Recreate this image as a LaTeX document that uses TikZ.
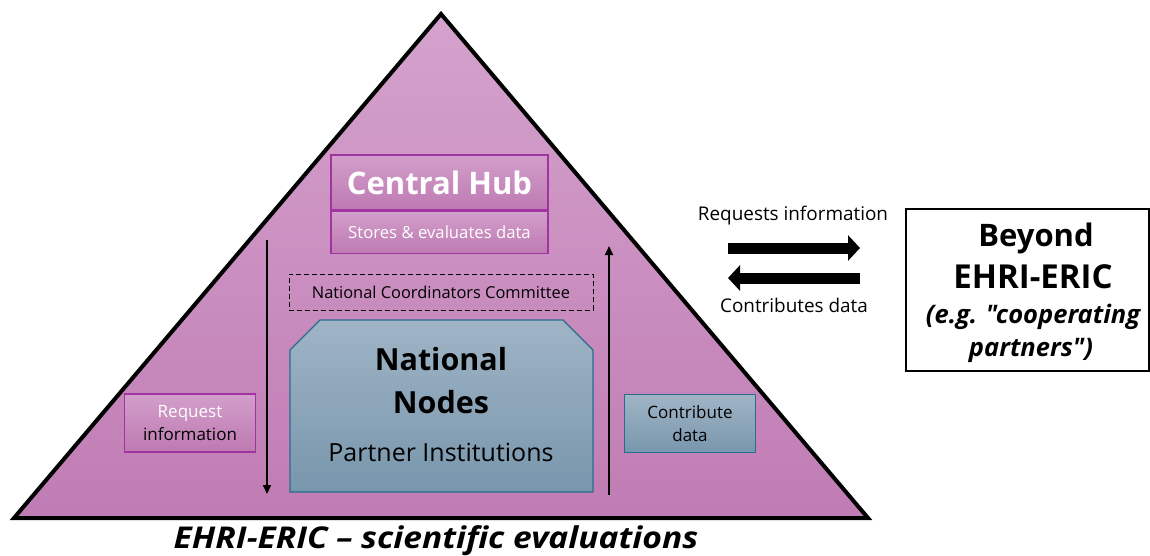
\documentclass[tikz,border=0pt]{standalone}
\usepackage{fontspec}
\setmainfont{Open Sans}[Ligatures=TeXOff]
\usetikzlibrary{arrows.meta,positioning}

\definecolor{pyrtop}{RGB}{212,162,204}
\definecolor{pyrbot}{RGB}{192,124,180}
\definecolor{hubline}{RGB}{162,52,162}
\definecolor{hubtop}{RGB}{210,158,202}
\definecolor{hubbot}{RGB}{190,122,178}
\definecolor{nodetop}{RGB}{160,180,198}
\definecolor{nodebot}{RGB}{120,150,172}
\definecolor{nodeline}{RGB}{38,110,140}

\newcommand{\fs}[2]{\fontsize{#1}{#2}\selectfont}

\tikzset{
  hubbox/.style={draw=hubline, line width=1.5pt, top color=hubtop, bottom color=hubbot, inner sep=0pt},
  nodebox/.style={draw=nodeline, line width=1.3pt, top color=nodetop, bottom color=nodebot, inner sep=0pt},
  sidebox/.style={minimum width=131pt, minimum height=58pt, align=center, font=\fs{17}{23}},
  flowarrow/.style={line width=2pt, -{Triangle[length=9pt,width=8pt]}},
  bigarrow/.style={line width=11pt, -{Triangle[length=12pt,width=25pt]}},
  flowlabel/.style={font=\fs{18.9}{20}},
}

\begin{document}
\begin{tikzpicture}[x=1pt,y=-1pt]
\useasboundingbox (0,0) rectangle (1150,555);

% the pyramid
\draw[line width=4pt, top color=pyrtop, bottom color=pyrbot] (441,14) -- (868,518) -- (14,518) -- cycle;

% central hub
\node[hubbox, minimum width=217pt, minimum height=55pt, text=white, font=\fs{31}{31}\bfseries] (hub) at (439.5,182.5) {Central Hub};
\node[hubbox, minimum width=217pt, minimum height=42pt, text=white, font=\fs{16.7}{17}, below=0pt of hub] (store) {Stores \& evaluates data};

% committee
\node[draw, dash pattern=on 5pt off 3pt, line width=1pt, minimum width=304pt, minimum height=36pt, font=\fs{16.4}{17}] (ncc) at (441,292) {National Coordinators Committee};

% national nodes (top corners cut)
\draw[nodebox] (290,350) -- (320,320) -- (563,320) -- (593,350) -- (593,492) -- (290,492) -- cycle;
\node[align=center, font=\fs{30.5}{43}\bfseries] (natname) at (441,381) {National\\Nodes};
\node[font=\fs{25}{25}] (partner) at (441,452) {Partner Institutions};

% flows inside
\coordinate (reqtop) at (267,240);
\coordinate (reqbot) at (267,494);
\draw[flowarrow] (reqtop) -- (reqbot);
\coordinate (conbot) at (609,495);
\coordinate (contop) at (609,246);
\draw[flowarrow] (conbot) -- (contop);

\node[hubbox, sidebox] (request) at (190,423) {\textcolor{white}{Request}\\information};
\node[nodebox, sidebox] (contribute) at (690,423.5) {Contribute\\data};

% outside
\node[draw, line width=2pt, minimum width=243pt, minimum height=162pt] (beyond) at (1027,290) {};
\node[font=\fs{31}{31}\bfseries] (beyond1) at (1036,238) {Beyond};
\node[font=\fs{33}{33}\bfseries] (beyond2) at (1033,277) {EHRI-ERIC};
\node[font=\fs{25.5}{26}\bfseries\itshape] (beyond3) at (1033,317) {(e.g. "cooperating};
\node[font=\fs{25.5}{26}\bfseries\itshape] (beyond4) at (1031,350) {partners")};

\coordinate (outa) at (728,248);
\coordinate (outb) at (860,248);
\draw[bigarrow] (outa) -- (outb);
\coordinate (ina) at (860,278);
\coordinate (inb) at (728,278);
\draw[bigarrow] (ina) -- (inb);
\node[flowlabel] (reqlabel) at (793,216) {Requests information};
\node[flowlabel] (conlabel) at (794,305) {Contributes data};

% title
\node[font=\fs{30}{30}\bfseries\itshape, xscale=1.12] (title) at (436,541) {EHRI-ERIC – scientific evaluations};
\end{tikzpicture}
\end{document}
